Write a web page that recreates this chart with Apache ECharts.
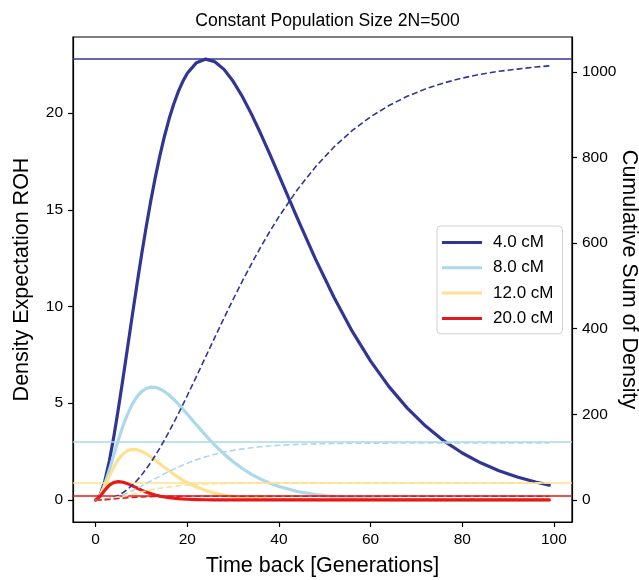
<!DOCTYPE html>
<html>
<head>
<meta charset="utf-8">
<script src="https://cdn.jsdelivr.net/npm/echarts@6/dist/echarts.min.js"></script>
<style>html,body{margin:0;padding:0;background:#fff}#c{width:639px;height:580px}</style>
</head>
<body>
<div id="c"></div>
<script>
// Time back [generations]
var tGen = [0,1,2,3,4,5,6,7,8,9,10,11,12,13,14,15,16,17,18,19,20,
  22,24,26,28,30,32,34,36,38,40,
  44,48,52,56,60,64,68,72,76,80,84,88,92,96,99];

var lengthLabels = ['4.0 cM', '8.0 cM', '12.0 cM', '20.0 cM'];

// Density expectation of ROH (left axis)
var dens4 = [0,0.267,0.983,2.035,3.329,4.787,6.345,7.949,9.554,11.129,12.645,14.083,15.424,16.660,17.783,18.788,19.674,20.441,21.091,21.628,22.056,
  22.605,22.788,22.655,22.256,21.640,20.855,19.943,18.939,17.873,16.774,
  14.564,12.434,10.476,8.712,7.176,5.858,4.746,3.817,3.052,2.426,1.919,1.511,1.186,0.925,0.767];
var dens8 = [0,0.241,0.819,1.567,2.369,3.147,3.854,4.462,4.956,5.334,5.601,5.763,5.833,5.822,5.742,5.606,5.424,5.207,4.965,4.705,4.433,
  3.880,3.340,2.835,2.378,1.974,1.625,1.326,1.075,0.867,0.695,
  0.439,0.274,0.168,0.102,0.061,0.036,0.021,0.013,0.007,0.004,0.002,0.001,0.001,0,0];
var dens12 = [0,0.222,0.698,1.232,1.720,2.110,2.385,2.549,2.613,2.597,2.516,2.391,2.233,2.058,1.874,1.689,1.508,1.336,1.176,1.029,0.895,
  0.667,0.490,0.354,0.253,0.179,0.125,0.087,0.061,0.042,0.028,
  0.013,0.006,0.003,0.001,0,0,0,0,0,0,0,0,0,0,0];
var dens20 = [0,0.189,0.507,0.763,0.907,0.948,0.913,0.832,0.726,0.615,0.508,0.411,0.327,0.257,0.199,0.153,0.117,0.088,0.066,0.049,0.036,
  0.020,0.011,0.006,0.003,0.001,0,0,0,0,0,
  0,0,0,0,0,0,0,0,0,0,0,0,0,0,0];

// Cumulative sum of density (right axis)
var cum4 = [0,0.26,1.22,3.21,6.48,11.17,17.40,25.21,34.61,45.57,58.03,71.93,87.16,103.63,121.23,139.84,159.35,179.64,200.59,222.11,244.07,
  288.91,334.37,379.85,424.73,468.56,510.97,551.68,590.51,627.27,661.88,
  724.56,778.62,824.57,863.13,895.15,921.47,942.95,960.33,974.32,985.51,994.41,1001.47,1006.48,1011.39,1014.04];
var cum8 = [0,0.24,1.06,2.63,5.00,8.14,12.00,16.46,21.42,26.75,32.35,38.11,43.95,49.77,55.51,61.12,66.54,71.75,76.71,81.42,85.85,
  93.88,100.83,106.75,111.73,115.87,119.29,122.08,124.36,126.19,127.65,
  129.77,131.09,131.90,132.40,132.70,132.88,132.98,133.03,133.07,133.09,133.11,133.12,133.12,133.13,133.13];
var cum12 = [0,0.22,0.92,2.15,3.87,5.98,8.37,10.92,13.53,16.13,18.64,21.03,23.27,25.32,27.20,28.89,30.40,31.73,32.91,33.94,34.83,
  36.27,37.34,38.11,38.66,39.05,39.33,39.52,39.65,39.75,39.81,
  39.88,39.91,39.93,39.93,39.94,39.94,39.94,39.94,39.94,39.94,39.94,39.94,39.94,39.94,39.94];
var cum20 = [0,0.19,0.70,1.46,2.37,3.31,4.23,5.06,5.79,6.40,6.91,7.32,7.65,7.90,8.10,8.26,8.37,8.46,8.53,8.58,8.61,
  8.66,8.68,8.70,8.70,8.71,8.71,8.71,8.71,8.71,8.71,
  8.71,8.71,8.71,8.71,8.71,8.71,8.71,8.71,8.71,8.71,8.71,8.71,8.71,8.71,8.71];

// Total cumulative sums (horizontal lines, right axis)
var totals = [1030, 135, 40, 9];

var xTicks = [0,20,40,60,80,100];
var leftTicks = [0,5,10,15,20];
var rightTicks = [0,200,400,600,800,1000];

var colors = ['#313695', '#abd9e9', '#fee090', '#e31a1c'];
var densAll = [dens4, dens8, dens12, dens20];
var cumAll = [cum4, cum8, cum12, cum20];

function pairs(ys) { return tGen.map(function (t, i) { return [t, ys[i]]; }); }
function plain(v) { return String(v); }

var FONT = 'Liberation Sans';
var series = [];
densAll.forEach(function (d, i) {
  series.push({
    name: lengthLabels[i], type: 'line', xAxisIndex: 0, yAxisIndex: 0,
    data: pairs(d), showSymbol: false, smooth: false,
    lineStyle: { color: colors[i], width: 3.2, join: 'round', cap: 'round' }, itemStyle: { color: colors[i] },
    silent: true, z: 2 + i
  });
});
cumAll.forEach(function (d, i) {
  series.push({
    name: 'cum ' + lengthLabels[i], type: 'line', xAxisIndex: 0, yAxisIndex: 1,
    data: pairs(d), showSymbol: false, smooth: false,
    lineStyle: { color: colors[i], width: 1.6, type: [6, 3] }, itemStyle: { color: colors[i] },
    silent: true, z: 10 + i,
    markLine: {
      symbol: 'none', silent: true, animation: false,
      label: { show: false },
      lineStyle: { color: colors[i], width: 1.6, type: 'solid' },
      data: [{ yAxis: totals[i] }]
    }
  });
});

var axisLineStyle = { show: true, onZero: false, lineStyle: { color: '#000', width: 1.2 } };

var chart = echarts.init(document.getElementById('c'), null, { renderer: 'canvas' });
chart.setOption({
  animation: false,
  backgroundColor: '#fff',
  textStyle: { fontFamily: FONT },
  title: {
    text: 'Constant Population Size 2N=500',
    left: 322.5, textAlign: 'center', top: 7,
    textStyle: { fontFamily: FONT, fontSize: 17.6, fontWeight: 'normal', color: '#000' }
  },
  legend: {
    data: lengthLabels,
    orient: 'vertical', left: 437, top: 226,
    icon: 'rect', itemWidth: 40, itemHeight: 3, itemGap: 8.3,
    padding: [8, 9, 7, 5],
    backgroundColor: '#fff', borderColor: '#d0d0d0', borderWidth: 1, borderRadius: 4,
    textStyle: { fontFamily: FONT, fontSize: 17, color: '#000', padding: [0, 0, 0, 6], lineHeight: 17 }
  },
  grid: { left: 73, right: 67, top: 37, bottom: 58, outerBoundsMode: 'none', containLabel: false,
          show: true, borderColor: '#000', borderWidth: 1.2, backgroundColor: 'transparent' },
  xAxis: {
    type: 'value', min: -4.95, max: 103.95,
    name: 'Time back [Generations]', nameLocation: 'middle', nameGap: 33, nameMoveOverlap: false,
    nameTextStyle: { fontFamily: FONT, fontSize: 21.5, color: '#000' },
    axisLine: axisLineStyle,
    axisTick: { show: true, inside: false, length: 5, lineStyle: { color: '#000', width: 1.2 }, customValues: xTicks },
    axisLabel: { fontFamily: FONT, fontSize: 15.5, color: '#000', margin: 10, customValues: xTicks, formatter: plain },
    splitLine: { show: false }
  },
  yAxis: [{
    type: 'value', min: -1.14, max: 23.93, position: 'left',
    name: 'Density Expectation ROH', nameLocation: 'middle', nameGap: 40, nameMoveOverlap: false,
    nameTextStyle: { fontFamily: FONT, fontSize: 21.5, color: '#000' },
    axisLine: axisLineStyle,
    axisTick: { show: true, length: 5, lineStyle: { color: '#000', width: 1.2 }, customValues: leftTicks },
    axisLabel: { fontFamily: FONT, fontSize: 15.5, color: '#000', margin: 10, customValues: leftTicks, formatter: plain },
    splitLine: { show: false }
  }, {
    type: 'value', min: -51.5, max: 1081.5, position: 'right',
    name: 'Cumulative Sum of Density', nameLocation: 'middle', nameGap: 46, nameRotate: -90, nameMoveOverlap: false,
    nameTextStyle: { fontFamily: FONT, fontSize: 21.5, color: '#000' },
    axisLine: axisLineStyle,
    axisTick: { show: true, length: 5, lineStyle: { color: '#000', width: 1.2 }, customValues: rightTicks },
    axisLabel: { fontFamily: FONT, fontSize: 15.5, color: '#000', margin: 10, customValues: rightTicks, formatter: plain },
    splitLine: { show: false }
  }],
  series: series
});
</script>
</body>
</html>
